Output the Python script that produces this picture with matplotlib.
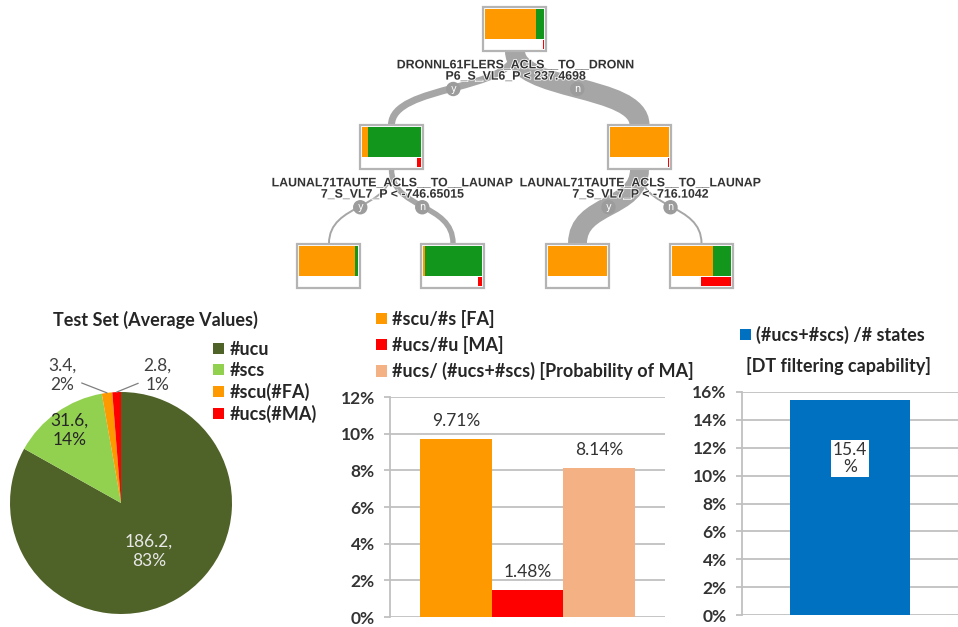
import numpy as np
import matplotlib.pyplot as plt
from matplotlib.patches import Rectangle, PathPatch, Circle
from matplotlib.path import Path
import matplotlib.patheffects as pe

plt.rcParams['font.family'] = ['Lato', 'DejaVu Sans']

# decision tree: node class shares and sample counts
tree_nodes = ['root', 'L', 'R', 'LL', 'LR', 'RL', 'RR']
tree_parent = [None, 'root', 'root', 'L', 'L', 'R', 'R']
tree_branch = [None, 'y', 'n', 'y', 'n', 'y', 'n']
tree_samples = [1000, 260, 740, 60, 200, 700, 40]
tree_frac_scu = [0.86, 0.11, 1.00, 0.94, 0.03, 1.00, 0.69]   # orange part, rest is green
tree_frac_ucs = [0.03, 0.07, 0.01, 0.00, 0.07, 0.00, 0.50]   # red part of the lower strip
tree_split = ['DRONNL61FLERS_ACLS__TO__DRONN\nP6_S_VL6_P < 237.4698',
              'LAUNAL71TAUTE_ACLS__TO__LAUNAP\n7_S_VL7_P < -746.65015',
              'LAUNAL71TAUTE_ACLS__TO__LAUNAP\n7_S_VL7_P < -716.1042',
              None, None, None, None]

# test set averages
pie_labels = ['#ucu', '#scs', '#scu(#FA)', '#ucs(#MA)']
pie_values = [186.2, 31.6, 3.4, 2.8]
pie_colors = ['#4f6228', '#92d050', '#ff9900', '#ff0000']

# error rates (%)
rate_labels = ['#scu/#s [FA]', '#ucs/#u [MA]', '#ucs/ (#ucs+#scs) [Probability of MA]']
rate_values = [9.71, 1.48, 8.14]
rate_colors = ['#ff9900', '#ff0000', '#f4b183']

# filtering capability (%)
filter_label = '(#ucs+#scs) /# states'
filter_note = '[DT filtering capability]'
filter_value = 15.4

W, H = 958, 627
fig = plt.figure(figsize=(W / 100, H / 100), dpi=100)


def fig_box(left, top, right, bottom):
    # pixel box -> figure fraction rect
    return [left / W, 1 - bottom / H, (right - left) / W, (bottom - top) / H]


text_col = '#404040'
grid_col = '#c0c0c0'
fs = 13

# ---------------- tree ----------------
ax_tree = fig.add_axes([0, 0, 1, 1])
ax_tree.set_xlim(0, W)
ax_tree.set_ylim(H, 0)
ax_tree.axis('off')

node_xy = {'root': (515, 29), 'L': (391.5, 147), 'R': (639.5, 147),
           'LL': (329, 265.5), 'LR': (453, 265.5), 'RL': (577.5, 265.5), 'RR': (701.5, 265.5)}
box_w, box_h = 63, 44
edge_col = '#a6a6a6'
tree_orange, tree_green, tree_red = '#ff9900', '#12961c', '#ff0000'

for i, name in enumerate(tree_nodes):
    parent = tree_parent[i]
    if parent is None:
        continue
    px, py = node_xy[parent]
    cx, cy = node_xy[name]
    y0 = py + box_h / 2
    y1 = cy - box_h / 2
    ym = (y0 + y1) / 2
    path = Path([(px, y0), (px, ym + 4), (cx, ym - 4), (cx, y1)],
                [Path.MOVETO, Path.CURVE4, Path.CURVE4, Path.CURVE4])
    lw = max(tree_samples[i] / tree_samples[0] * 27 * 0.72, 1.4)
    ax_tree.add_patch(PathPatch(path, fc='none', ec=edge_col, lw=lw,
                                capstyle='butt', zorder=1))
    mx, my = (px + cx) / 2, ym + 1
    ax_tree.add_patch(Circle((mx, my), 6.5, color='#9c9c9c', zorder=2))
    ax_tree.text(mx, my - 0.5, tree_branch[i], color='white', fontsize=7,
                 ha='center', va='center', family='DejaVu Sans', zorder=2)

for i, name in enumerate(tree_nodes):
    x, y = node_xy[name]
    x0, y0 = x - box_w / 2, y - box_h / 2
    ax_tree.add_patch(Rectangle((x0, y0), box_w, box_h, fc='white', ec='#b4b4b4',
                                lw=1.6, zorder=3))
    iw = box_w - 4
    top_h = (box_h - 4) * 0.76
    f = tree_frac_scu[i]
    ax_tree.add_patch(Rectangle((x0 + 2, y0 + 2), iw * f, top_h, fc=tree_orange,
                                lw=0, zorder=4))
    ax_tree.add_patch(Rectangle((x0 + 2 + iw * f, y0 + 2), iw * (1 - f), top_h,
                                fc=tree_green, lw=0, zorder=4))
    r = tree_frac_ucs[i]
    low_y = y0 + 2 + top_h + 1
    ax_tree.add_patch(Rectangle((x0 + 2 + iw * (1 - r), low_y), iw * r,
                                box_h - 4 - top_h - 1, fc=tree_red, lw=0, zorder=4))
    if tree_split[i]:
        ax_tree.text(x + 1, y + box_h / 2 + 20, tree_split[i], ha='center', va='center',
                     fontsize=8.9, fontweight='bold', family='Liberation Sans',
                     color='#333333', linespacing=0.92, zorder=5,
                     path_effects=[pe.withStroke(linewidth=1.2, foreground='white')])

# ---------------- pie ----------------
ax_pie = fig.add_axes(fig_box(10, 392, 232, 614))
wedges, _ = ax_pie.pie(pie_values, colors=pie_colors, startangle=90, counterclock=False)
ax_pie.set_xlim(-1, 1)
ax_pie.set_ylim(-1, 1)
total = sum(pie_values)
inside_r = [0.5, 0.8]
outside_xy = [None, None, (-0.53, 1.15), (0.33, 1.15)]
for i, (w, v) in enumerate(zip(wedges, pie_values)):
    ang = np.deg2rad((w.theta1 + w.theta2) / 2)
    txt = f'{v:.1f},\n{v / total * 100:.0f}%'
    if i < len(inside_r):
        col = '#e8e8e8' if i == 0 else '#262626'
        ax_pie.text(inside_r[i] * np.cos(ang), inside_r[i] * np.sin(ang), txt,
                    ha='center', va='center', fontsize=12.5, color=col, linespacing=1.25)
    else:
        ax_pie.annotate(txt, xy=(np.cos(ang), np.sin(ang)), xytext=outside_xy[i],
                        ha='center', va='center', fontsize=12.5, color=text_col,
                        linespacing=1.25,
                        arrowprops=dict(arrowstyle='-', color='#7f7f7f', lw=0.9,
                                        shrinkA=2, shrinkB=0))
fig.text(155 / W, 1 - 320 / H, 'Test Set (Average Values)', ha='center', va='center',
         fontsize=fs, fontweight='bold', color='#262626')
fig.legend(wedges, pie_labels, loc='upper left', bbox_to_anchor=(213 / W, 1 - 341 / H),
           frameon=False, borderpad=0, borderaxespad=0,
           handlelength=0.6, handleheight=0.6, handletextpad=0.3,
           labelspacing=0.22, prop={'size': fs, 'weight': 'bold'}, labelcolor='#262626')


def style_bar_axes(ax, top):
    ax.set_ylim(0, top)
    ax.set_yticks(np.arange(0, top + 1, 2))
    ax.set_yticklabels([f'{t:.0f}%' for t in np.arange(0, top + 1, 2)])
    ax.yaxis.grid(True, color=grid_col, lw=1.3, zorder=0)
    ax.set_axisbelow(True)
    for s in ['top', 'right', 'bottom']:
        ax.spines[s].set_visible(False)
    ax.spines['left'].set_color(grid_col)
    ax.spines['left'].set_linewidth(1.3)
    ax.set_xticks([])
    ax.tick_params(axis='y', length=4, width=1.3, color=grid_col, pad=7,
                   labelsize=12.5, labelcolor='#333333')
    for t in ax.get_yticklabels():
        t.set_fontweight('bold')


# ---------------- error rates ----------------
ax_mid = fig.add_axes(fig_box(390, 397, 665, 617))
bars = []
for k, (lab, v, c) in enumerate(zip(rate_labels, rate_values, rate_colors)):
    b = ax_mid.bar(k - 1, v, width=1, color=c, label=lab, zorder=2)
    ax_mid.bar_label(b, labels=[f'{v:.2f}%'], padding=7, fontsize=12.5, color='#333333')
    bars.append(b)
ax_mid.set_xlim(-1.92, 1.92)
style_bar_axes(ax_mid, 12)
fig.legend(bars, rate_labels, loc='upper left', bbox_to_anchor=(376 / W, 1 - 310 / H),
           frameon=False, borderpad=0, borderaxespad=0,
           handlelength=0.6, handleheight=0.6, handletextpad=0.3,
           labelspacing=0.45, prop={'size': fs, 'weight': 'bold'}, labelcolor='#262626')

# ---------------- filtering capability ----------------
ax_right = fig.add_axes(fig_box(742, 392, 958, 615))
fb = ax_right.bar(0, filter_value, width=1, color='#0070c0', label=filter_label, zorder=2)
ax_right.set_xlim(-0.9, 0.9)
style_bar_axes(ax_right, 16)
ax_right.text(0, filter_value * 0.73, f'{filter_value:.1f}\n%', ha='center', va='center',
              fontsize=12.5, color='#333333', linespacing=1.1, zorder=3,
              bbox=dict(fc='white', ec='none', pad=1.5))
fig.legend(fb, [filter_label], loc='center left', bbox_to_anchor=(740 / W, 1 - 335 / H),
           frameon=False, borderpad=0, borderaxespad=0,
           handlelength=0.6, handleheight=0.6, handletextpad=0.3,
           prop={'size': fs, 'weight': 'bold'}, labelcolor='#262626')
fig.text(838 / W, 1 - 366 / H, filter_note, ha='center', va='center',
         fontsize=fs, fontweight='bold', color='#262626')

fig.savefig('out.png', dpi=100)
